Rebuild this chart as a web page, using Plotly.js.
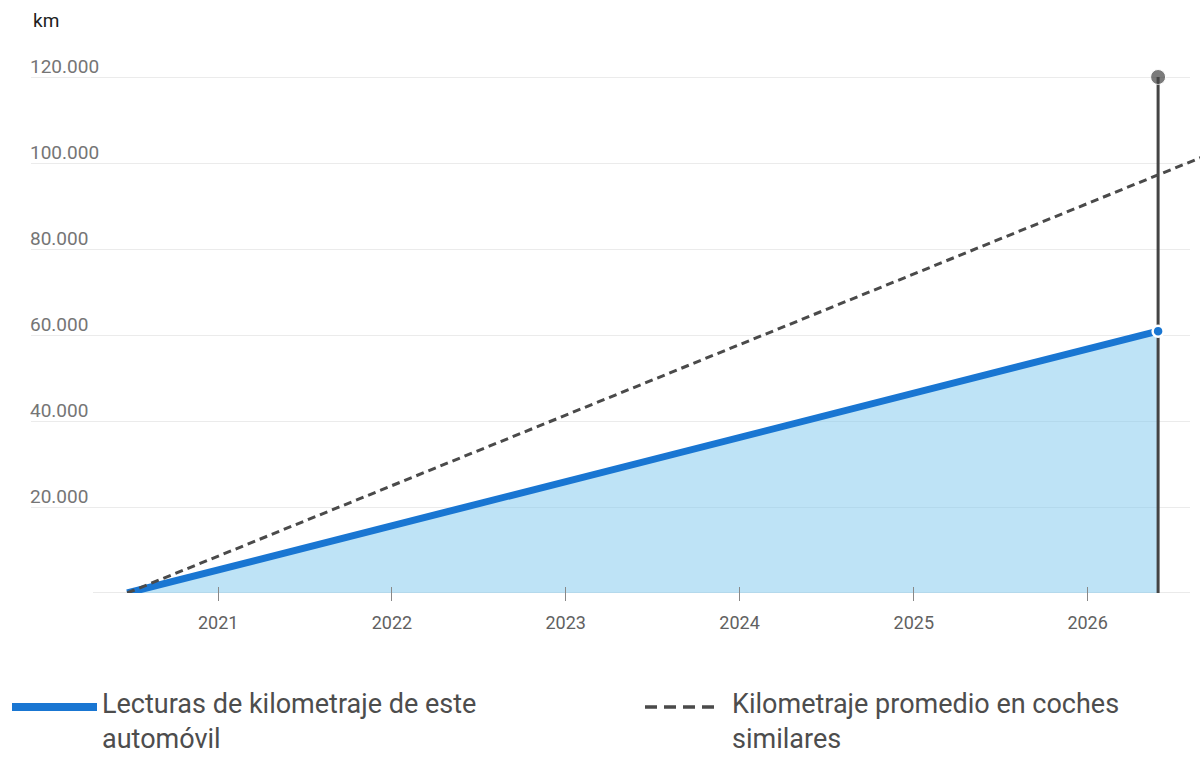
<!DOCTYPE html>
<html>
<head>
<meta charset="utf-8">
<script src="https://cdn.plot.ly/plotly-3.0.1.min.js"></script>
<style>html,body{margin:0;padding:0;background:#fff;}</style>
</head>
<body>
<div id="chart" style="width:1200px;height:758px;"></div>
<script>
// ---- data ----
const readingDates = ['2020-06-24', '2026-05-29'];
const readingKm = [0, 60900];
const averageDates = ['2020-06-24', '2026-05-29', '2026-09-01'];
const averageKm = [0, 97400, 101500];
const todayDate = '2026-05-29';
const todayTopKm = 120000;
const yTicks = [0, 20000, 40000, 60000, 80000, 100000, 120000];
const yearTicks = [2021, 2022, 2023, 2024, 2025, 2026];
const seriesNames = ['Lecturas de kilometraje de este<br>automóvil', 'Kilometraje promedio en coches<br>similares'];
const yUnit = 'km';

// ---- layout geometry ----
const W = 1200, H = 758, L = 31, R = 0, B = 165;
const yMax = 130000;
const zeroPx = H - B;                 // pixel row of 0 km
const pxPerKm = (593 - 77) / 120000;
const T = Math.round(zeroPx - yMax * pxPerKm);
const plotW = W - L - R, plotH = H - T - B;
const gridRight = 1190;
const D = (gridRight - L) / plotW;
const t0 = Date.parse('2019-12-05'), t1 = Date.parse('2026-08-04');
const t2 = t0 + (t1 - t0) / D;
const px = x => (x - L) / plotW;
const py = y => (H - B - y) / plotH;

const fmt = v => v === 0 ? '' : String(v).replace(/\B(?=(\d{3})+(?!\d))/g, '.');
const tickDates = yearTicks.map(y => y + '-01-01');
const FONT = 'Roboto, "Noto Sans", sans-serif';

const traces = [
  {
    x: readingDates, y: readingKm, mode: 'lines', xaxis: 'x', yaxis: 'y',
    line: {color: '#1976d2', width: 7},
    fill: 'tozeroy', fillcolor: 'rgba(125,199,237,0.5)',
    hoverinfo: 'skip'
  },
  {
    x: [todayDate, todayDate], y: [0, todayTopKm], mode: 'lines+markers', xaxis: 'x', yaxis: 'y',
    line: {color: '#444444', width: 3},
    marker: {size: [0, 15], color: '#444444'},
    cliponaxis: false, hoverinfo: 'skip'
  },
  {
    x: [readingDates[readingDates.length - 1]], y: [readingKm[readingKm.length - 1]],
    mode: 'markers', xaxis: 'x', yaxis: 'y',
    marker: {size: 11, color: '#1976d2', line: {color: '#ffffff', width: 2.5}},
    cliponaxis: false, hoverinfo: 'skip'
  },
  {
    x: averageDates, y: averageKm, mode: 'lines', xaxis: 'x2', yaxis: 'y2',
    line: {color: '#4a4a4a', width: 3, dash: '8px,5px'},
    hoverinfo: 'skip'
  }
];

const layout = {
  width: W, height: H,
  margin: {l: L, r: R, t: T, b: B, pad: 0},
  paper_bgcolor: '#ffffff', plot_bgcolor: 'rgba(0,0,0,0)',
  showlegend: false, hovermode: false,
  separators: ',.',
  font: {family: FONT},
  xaxis: {
    type: 'date', range: [t0, t1], domain: [0, D], anchor: 'free', position: py(586),
    tickvals: tickDates, ticktext: yearTicks.map(String),
    ticks: 'outside', ticklen: 14, tickwidth: 1, tickcolor: '#888888',
    ticklabelstandoff: 6,
    showgrid: false, zeroline: false, showline: false,
    tickfont: {size: 18, color: '#616161', family: FONT},
    fixedrange: true
  },
  xaxis2: {
    type: 'date', range: [t0, t2], domain: [0, 1], anchor: 'y2', visible: false, fixedrange: true
  },
  yaxis: {
    range: [0, yMax], domain: [0, 1], anchor: 'x',
    tickvals: yTicks, ticktext: yTicks.map(fmt),
    ticks: '', showgrid: true, gridcolor: '#ebebeb', gridwidth: 1,
    zeroline: false, showline: false,
    ticklabelposition: 'inside top',
    ticklabelstandoff: -4, ticklabelshift: 3,
    tickfont: {size: 19, color: '#757575', family: FONT},
    fixedrange: true
  },
  yaxis2: {
    range: [0, yMax], overlaying: 'y', anchor: 'x2', visible: false, fixedrange: true
  },
  shapes: [
    {type: 'line', xref: 'paper', yref: 'y', x0: px(93), x1: D, y0: 0, y1: 0,
     line: {color: '#d4d4d4', width: 1}, layer: 'below'},
    {type: 'line', xref: 'paper', yref: 'paper', x0: px(12), x1: px(97), y0: py(707), y1: py(707),
     line: {color: '#1976d2', width: 8}},
    {type: 'line', xref: 'paper', yref: 'paper', x0: px(645), x1: px(715), y0: py(707), y1: py(707),
     line: {color: '#4a4a4a', width: 3.5, dash: '12px,7px'}}
  ],
  annotations: [
    {text: yUnit, xref: 'paper', yref: 'paper', x: px(31), y: py(20), xanchor: 'left', yanchor: 'middle',
     showarrow: false, font: {size: 19, color: '#212121', family: FONT}},
    {text: seriesNames[0], xref: 'paper', yref: 'paper', x: px(101), y: py(721), xanchor: 'left', yanchor: 'middle',
     align: 'left', showarrow: false, borderpad: 0, font: {size: 27, color: '#4d4d4d', family: FONT}},
    {text: seriesNames[1], xref: 'paper', yref: 'paper', x: px(731), y: py(721), xanchor: 'left', yanchor: 'middle',
     align: 'left', showarrow: false, borderpad: 0, font: {size: 27, color: '#4d4d4d', family: FONT}}
  ]
};

Plotly.newPlot('chart', traces, layout, {staticPlot: true, displayModeBar: false});
</script>
</body>
</html>
